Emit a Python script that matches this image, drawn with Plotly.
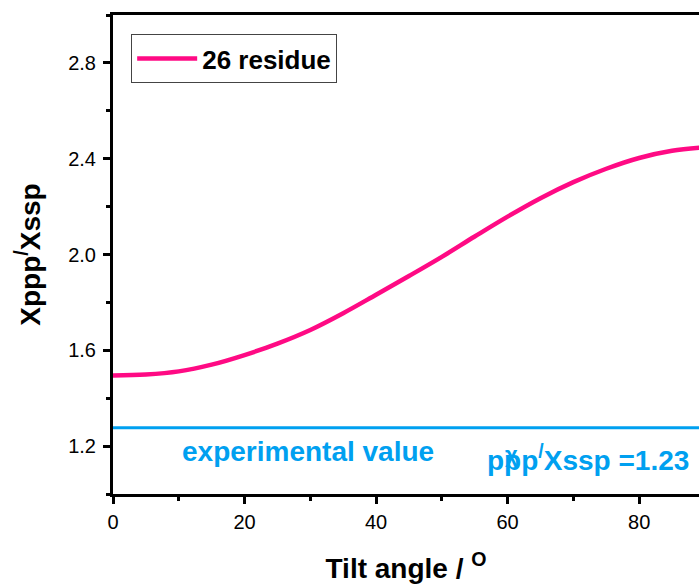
import plotly.graph_objects as go

# Data
tilt_angle = [0, 5, 10, 15, 20, 25, 30, 35, 40, 45, 50, 55, 60, 65, 70, 75, 80, 85, 90]
ratio_26_residue = [1.495, 1.499, 1.512, 1.540, 1.580, 1.628, 1.685, 1.755, 1.832, 1.910,
                    1.990, 2.075, 2.158, 2.235, 2.302, 2.358, 2.403, 2.433, 2.448]
experimental_value = 1.277
series_name = "26 residue"

PINK = "#FF0A84"
BLUE = "#00A0F0"
FONT = "Liberation Sans, Arial, sans-serif"

fig = go.Figure()
fig.add_trace(go.Scatter(
    x=tilt_angle, y=ratio_26_residue, mode="lines", name="<b>" + series_name + "</b>",
    line=dict(color=PINK, width=4.5, shape="spline"),
))
fig.add_trace(go.Scatter(
    x=[tilt_angle[0], tilt_angle[-1]], y=[experimental_value, experimental_value],
    mode="lines", showlegend=False, line=dict(color=BLUE, width=3),
))

fig.add_annotation(x=29.7, y=1.178, text="<b>experimental value</b>", showarrow=False,
                   font=dict(family=FONT, size=28, color=BLUE), xref="x", yref="y")
fig.add_annotation(x=72.2, y=1.15, text="<b>ppp<sup>/</sup>Xssp =1.23</b>", showarrow=False,
                   font=dict(family=FONT, size=28, color=BLUE), xref="x", yref="y")
fig.add_annotation(x=60.6, y=1.165, text="<b>χ</b>", showarrow=False,
                   font=dict(family=FONT, size=22, color=BLUE), xref="x", yref="y")

axis_common = dict(
    showgrid=False, zeroline=False, showline=True, linecolor="black", linewidth=3,
    ticks="outside", ticklen=7, tickwidth=2.5, tickcolor="black",
    tickfont=dict(family=FONT, size=20, color="black"),
    automargin=False,
)

fig.update_xaxes(
    range=[0, 89.1], tick0=0, dtick=20, mirror=True,
    minor=dict(ticks="outside", ticklen=4, tickwidth=2.5, tickcolor="black", tick0=0, dtick=10),
    title=dict(text="<b>Tilt angle / <sup>O</sup></b>", font=dict(family=FONT, size=28, color="black"), standoff=28),
    ticklabelstandoff=1,
    **axis_common,
)
fig.update_yaxes(
    range=[1.0, 3.0], tick0=1.2, dtick=0.4, mirror=False,
    tickformat=".1f",
    minor=dict(ticks="outside", ticklen=4, tickwidth=2.5, tickcolor="black", tick0=1.0, dtick=0.2),
    title=dict(text="<b>Xppp<sup>/</sup>Xssp</b>", font=dict(family=FONT, size=28, color="black"), standoff=20),
    ticklabelstandoff=3,
    **axis_common,
)

fig.update_layout(
    width=699, height=584,
    margin=dict(l=113, r=0, t=15, b=90, autoexpand=False),
    paper_bgcolor="white", plot_bgcolor="white",
    showlegend=True,
    legend=dict(
        x=0.031, y=0.96, xanchor="left", yanchor="top",
        bordercolor="#444444", borderwidth=1, bgcolor="white",
        font=dict(family=FONT, size=26, color="black"),
        itemwidth=60, tracegroupgap=0,
    ),
)

fig.write_html(
    "out.html",
    config={"displayModeBar": False},
    post_script="document.body.style.margin='0px';document.body.style.overflow='hidden';",
)
